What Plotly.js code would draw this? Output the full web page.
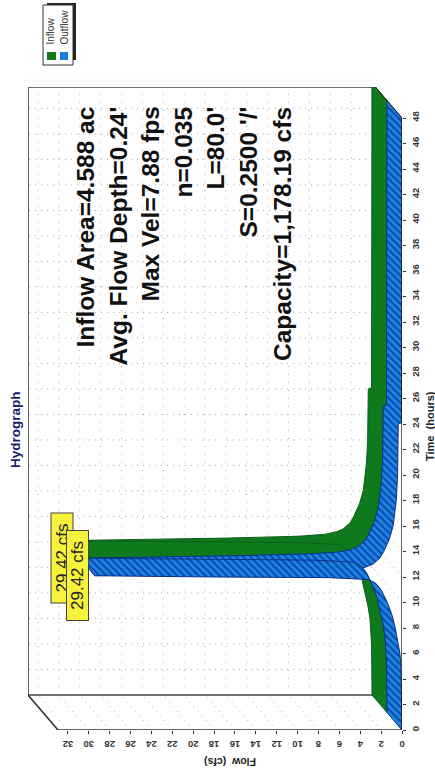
<!DOCTYPE html>
<html><head><meta charset="utf-8">
<script src="https://cdn.plot.ly/plotly-3.0.1.min.js"></script>
<style>html,body{margin:0;padding:0;background:#fff;overflow:hidden}</style>
</head><body><div id="chart" style="width:435px;height:777px"></div>
<script>
// Hydrograph data (hours, cfs)
var timeHours = [0,2,4,5,6,7,8,9,10,11,11.5,11.8,11.95,12,12.1,12.2,12.3,12.45,12.6,12.8,13,13.5,14,14.5,15,16,17,18,20,22,24,24.1,26,28,32,36,40,44,48];
var inflowCfs = [0,0.02,0.05,0.1,0.2,0.4,0.65,0.95,1.4,2,2.5,3.2,7,18,29.42,22,14,7,4.5,3.4,2.8,2.1,1.75,1.45,1.2,0.85,0.7,0.55,0.42,0.38,0.36,0.05,0.04,0.04,0.03,0.02,0.02,0.01,0.01];
var outflowCfs = [0,0.02,0.05,0.1,0.2,0.4,0.65,0.95,1.4,2,2.5,3.2,7,18,29.42,22,14,7,4.5,3.4,2.8,2.1,1.75,1.45,1.2,0.85,0.7,0.55,0.42,0.38,0.36,0.05,0.04,0.04,0.03,0.02,0.02,0.01,0.01];
var timeTicks = [0,2,4,6,8,10,12,14,16,18,20,22,24,26,28,30,32,34,36,38,40,42,44,46,48];
var flowTicks = [0,2,4,6,8,10,12,14,16,18,20,22,24,26,28,30,32];
var notes = ["Inflow Area=4.588 ac","Avg. Flow Depth=0.24'","Max Vel=7.88 fps","n=0.035","L=80.0'","S=0.2500 '/'","Capacity=1,178.19 cfs"];
var notePx = [85,118,150,183,215,248,282];
var peakLabel = "29.42 cfs";

// Chart geometry
var W=435,H=777,L=28,R=402,T=87,B=730;
var depthT=2.75, depthQ=2.87, topQ=32.95, topT=48;
var qMax=(R-L)/10.44, tMax=(B-T)/12.75;
function px(x){return (x-L)/(R-L);}
function py(y){return (B-y)/(B-T);}

function ribbon(ts,qs,d0,d1){
  var xs=[],ys=[],i;
  for(i=0;i<ts.length;i++){xs.push(qs[i]+depthQ*d0);ys.push(ts[i]+depthT*d0);}
  for(i=ts.length-1;i>=0;i--){xs.push(qs[i]+depthQ*d1);ys.push(ts[i]+depthT*d1);}
  xs.push(xs[0]);ys.push(ys[0]);
  return {x:xs,y:ys};
}
var traces=[];
function line(x,y,color,w,dash){traces.push({type:'scatter',mode:'lines',x:x,y:y,line:{color:color,width:w,dash:dash||'solid'},hoverinfo:'skip',showlegend:false,cliponaxis:false});}
var gridC='#a8a8a8';
timeTicks.forEach(function(t){
  if(t===0) return;
  line([depthQ,qMax],[t+depthT,t+depthT],gridC,1,'1px 5px');
});
flowTicks.forEach(function(q){
  if(q===0) return;
  line([q+depthQ,q+depthQ],[depthT,tMax],gridC,1,'1px 7px');
  line([q,q+depthQ],[0,depthT],gridC,1,'1px 5px');
});
timeTicks.forEach(function(t){ line([0,depthQ],[t,t+depthT],gridC,1,'1px 5px'); });
// back wall frame and floor
line([depthQ,qMax,qMax,depthQ],[tMax,tMax,depthT,depthT],'#444',1.6);
line([qMax,topQ,0],[depthT,0,0],'#333',1.6);
// ribbons: the falling limb first, then the rising limb, so the spike folds without cancelling
function addRibbon(qs,d0,d1,name,style){
  var peak=qs.indexOf(Math.max.apply(null,qs));
  [[peak,qs.length],[0,peak+1]].forEach(function(r){
    var p=ribbon(timeHours.slice(r[0],r[1]),qs.slice(r[0],r[1]),d0,d1);
    traces.push(Object.assign({type:'scatter',mode:'lines',name:name,x:p.x,y:p.y,fill:'toself',hoverinfo:'skip',showlegend:false},style));
  });
}
addRibbon(inflowCfs,0.5,1,'Inflow',{fillcolor:'#0e7a1d',line:{color:'#0b5f17',width:1}});
addRibbon(outflowCfs,0,0.5,'Outflow',{fillcolor:'#1a80dc',
  fillpattern:{shape:'\\',fgcolor:'#0b45ad',bgcolor:'#1a86e0',size:5,solidity:0.4},line:{color:'#0a2f8c',width:1}});
line([0,0],[0,topT],'#222',1.4);
line([0,depthQ],[topT,topT+depthT],'#222',1);

var ann=[];
function addText(x,y,text,size,angle,color,bold,xa,ya){
  ann.push({xref:'paper',yref:'paper',x:px(x),y:py(y),text:bold?'<b>'+text+'</b>':text,showarrow:false,textangle:angle,
    xanchor:xa||'center',yanchor:ya||'middle',font:{family:'"Liberation Sans",Arial,sans-serif',size:size,color:color}});
}
notes.forEach(function(n,i){addText(notePx[i],105,n,24.5,-90,'#111',true,'center','top');});
addText(15,430,'Hydrograph',13.5,-90,'#1a1a70',true);
addText(430,426,'Time  (hours)',11,-90,'#222',true);
addText(230,762,'Flow  (cfs)',10.5,180,'#222',true);
addText(50,47,'Inflow',10,-90,'#333',false,'center','bottom');
addText(64,47,'Outflow',10,-90,'#333',false,'center','bottom');
[[62,558.5],[77.5,575.5]].forEach(function(p){
  ann.push({xref:'paper',yref:'paper',x:px(p[0]),y:py(p[1]),text:peakLabel,showarrow:false,textangle:-90,
    xanchor:'center',yanchor:'middle',width:87,height:19,bgcolor:'#f6f23c',bordercolor:'#444',borderwidth:1,borderpad:1,
    font:{family:'"Liberation Sans",Arial,sans-serif',size:17,color:'#222'}});
});

function rect(x0,y0,x1,y1,fill,lc,lw){return {type:'rect',xref:'paper',yref:'paper',x0:px(x0),x1:px(x1),y0:py(y0),y1:py(y1),fillcolor:fill,line:{color:lc||fill,width:lw||0}};}
var shapes=[
  rect(47,3,76,60,'#222'),
  rect(43,5,73,65,'#ffffff','#333',1),
  rect(47,52,56,60,'#0e7a1d'),
  rect(60,52,68,60,'#1a80dc'),
  {type:'line',xref:'paper',yref:'paper',x0:px(24),x1:px(380),y0:py(80),y1:py(80),line:{color:'#ccc',width:1,dash:'1px 3px'}}
];

var tickFont={family:'"Liberation Sans",Arial,sans-serif',size:9.5,color:'#333'};
function boldTicks(a){return a.map(function(v){return '<b>'+v+'</b>';});}
var layout={width:W,height:H,margin:{l:L,r:W-R,t:T,b:H-B},paper_bgcolor:'#fff',plot_bgcolor:'#fff',showlegend:false,
  xaxis:{range:[qMax,0],tickvals:flowTicks,ticktext:boldTicks(flowTicks),tickangle:180,showgrid:false,zeroline:false,showline:false,ticks:'outside',ticklen:3,tickcolor:'#333',ticklabelstandoff:5,tickfont:tickFont},
  yaxis:{range:[0,tMax],side:'right',tickvals:timeTicks,ticktext:boldTicks(timeTicks),tickangle:-90,showgrid:false,zeroline:false,showline:false,ticks:'outside',ticklen:3,tickcolor:'#333',ticklabelstandoff:2,tickfont:tickFont},
  annotations:ann,shapes:shapes};
Plotly.newPlot('chart',traces,layout,{displayModeBar:false,staticPlot:true});
</script></body></html>
